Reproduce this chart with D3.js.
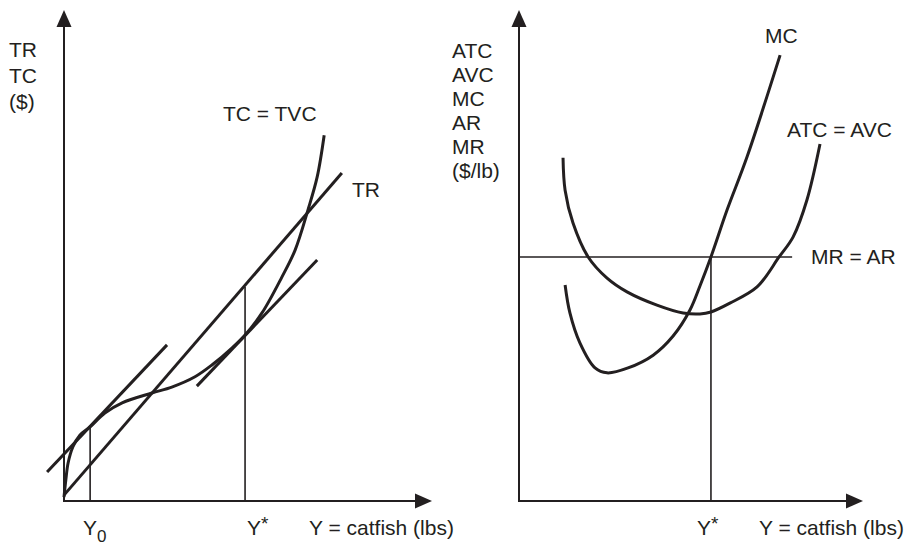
<!DOCTYPE html>
<html>
<head>
<meta charset="utf-8">
<script src="https://cdn.jsdelivr.net/npm/d3@7"></script>
<style>
body { margin: 0; background: #fff; }
text { font-family: "Liberation Sans", Arial, sans-serif; font-size: 21px; fill: #231f20; }
</style>
</head>
<body>
<div id="chart"></div>
<script>
// left panel: totals (units 0-100 on both axes)
var tcX = [0, 0.5, 1.1, 2.4, 4.3, 7.1, 11.1, 15.8, 23.9, 29.3, 35.6, 40.2, 45.7, 49.2, 53.8, 59.2, 62.8, 66.3, 68.8, 70.7]
var tcY = [0.8, 4.3, 7.7, 11.0, 13.4, 15.1, 17.9, 20.0, 22.0, 23.2, 25.3, 27.7, 31.2, 33.8, 38.3, 45.6, 51.1, 59.3, 66.0, 74.5]
var trX = [0, 75.5]
var trY = [1.2, 66.8]
var tanLowX = [-4.6, 28.0]
var tanLowY = [5.9, 31.8]
var tanHighX = [36.1, 68.8]
var tanHighY = [23.4, 49.1]
var dropLX = [7.1, 49.2]      // Y0, Y*
var dropLTop = [15.1, 43.6]

// right panel: per pound
var mcX = [13.4, 14.8, 17.7, 22.1, 25.6, 31.7, 39.0, 44.8, 49.7, 52.6, 55.8, 60.5, 66.3, 75.9]
var mcY = [44.0, 38.3, 32.2, 27.1, 26.1, 27.1, 29.7, 33.6, 38.9, 43.8, 49.7, 59.3, 70.1, 90.8]
var atcX = [12.8, 13.4, 15.7, 20.1, 25.6, 31.4, 40.1, 47.7, 52.6, 55.8, 61.3, 69.2, 75.6, 79.7, 83.7, 87.5]
var atcY = [69.9, 63.3, 56.6, 49.7, 45.4, 42.6, 39.9, 38.3, 38.1, 38.5, 40.3, 43.6, 49.7, 53.8, 61.3, 72.7]
var mrX = [0, 79.4]
var mrY = [49.7, 49.7]
var dropRX = [55.8]
var dropRTop = [49.7]

var leftYLabels = ["TR", "TC", "($)"]
var rightYLabels = ["ATC", "AVC", "MC", "AR", "MR", "($/lb)"]

var width = 909
var height = 546
var ink = "#231f20"

var svg = d3.select("#chart").append("svg")
    .attr("width", width)
    .attr("height", height)

var xL = d3.scaleLinear().domain([0, 100]).range([64, 432])
var yL = d3.scaleLinear().domain([0, 100]).range([501, 10])
var xR = d3.scaleLinear().domain([0, 100]).range([519, 863])
var yR = d3.scaleLinear().domain([0, 100]).range([501, 10])

function axes(xs, ys) {
    var ox = xs(0), oy = ys(0)
    var tx = xs(100), ty = ys(100)
    var len = 17, hw = 7.5
    svg.append("path")
        .attr("d", "M" + ox + "," + (ty + len) + "L" + ox + "," + oy + "L" + (tx - len) + "," + oy)
        .attr("fill", "none").attr("stroke", ink).attr("stroke-width", 2)
    svg.append("path")
        .attr("d", "M" + ox + "," + ty + "L" + (ox - hw) + "," + (ty + len) + "L" + (ox + hw) + "," + (ty + len) + "Z")
        .attr("fill", ink)
    svg.append("path")
        .attr("d", "M" + tx + "," + oy + "L" + (tx - len) + "," + (oy - hw) + "L" + (tx - len) + "," + (oy + hw) + "Z")
        .attr("fill", ink)
}

function curve(xs, ys, xv, yv, w) {
    var line = d3.line()
        .x(d => xs(d[0]))
        .y(d => ys(d[1]))
        .curve(d3.curveCatmullRom.alpha(0.5))
    svg.append("path")
        .datum(d3.zip(xv, yv))
        .attr("d", line)
        .attr("fill", "none")
        .attr("stroke", ink)
        .attr("stroke-width", w)
}

function drops(xs, ys, xv, tops) {
    svg.selectAll(null)
        .data(d3.zip(xv, tops))
        .enter()
        .append("line")
        .attr("x1", d => xs(d[0])).attr("x2", d => xs(d[0]))
        .attr("y1", ys(0)).attr("y2", d => ys(d[1]))
        .attr("stroke", ink).attr("stroke-width", 1.6)
}

// left panel
drops(xL, yL, dropLX, dropLTop)
curve(xL, yL, trX, trY, 3)
curve(xL, yL, tanLowX, tanLowY, 3)
curve(xL, yL, tanHighX, tanHighY, 3)
curve(xL, yL, tcX, tcY, 3)
axes(xL, yL)

// right panel
curve(xR, yR, mrX, mrY, 1.6)
drops(xR, yR, dropRX, dropRTop)
curve(xR, yR, atcX, atcY, 3)
curve(xR, yR, mcX, mcY, 3)
axes(xR, yR)

// labels
function label(x, y, s) {
    return svg.append("text").attr("x", x).attr("y", y).text(s)
}

leftYLabels.forEach(function(s, i) { label(9, 57 + i * 26, s) })
rightYLabels.forEach(function(s, i) { label(452, 57.5 + i * 24, s) })

label(223, 121, "TC = TVC")
label(352, 197, "TR")
label(765, 43, "MC")
label(787, 137, "ATC = AVC")
label(811, 264, "MR = AR")

var baseY = 535
label(83, baseY, "Y").append("tspan").attr("dy", 7).style("font-size", "17px").text("0")
label(247, baseY, "Y").append("tspan").attr("dy", -5).style("font-size", "19px").text("*")
label(697, baseY, "Y").append("tspan").attr("dy", -5).style("font-size", "19px").text("*")
label(309, baseY, "Y = catfish (lbs)")
label(759, baseY, "Y = catfish (lbs)")
</script>
</body>
</html>
